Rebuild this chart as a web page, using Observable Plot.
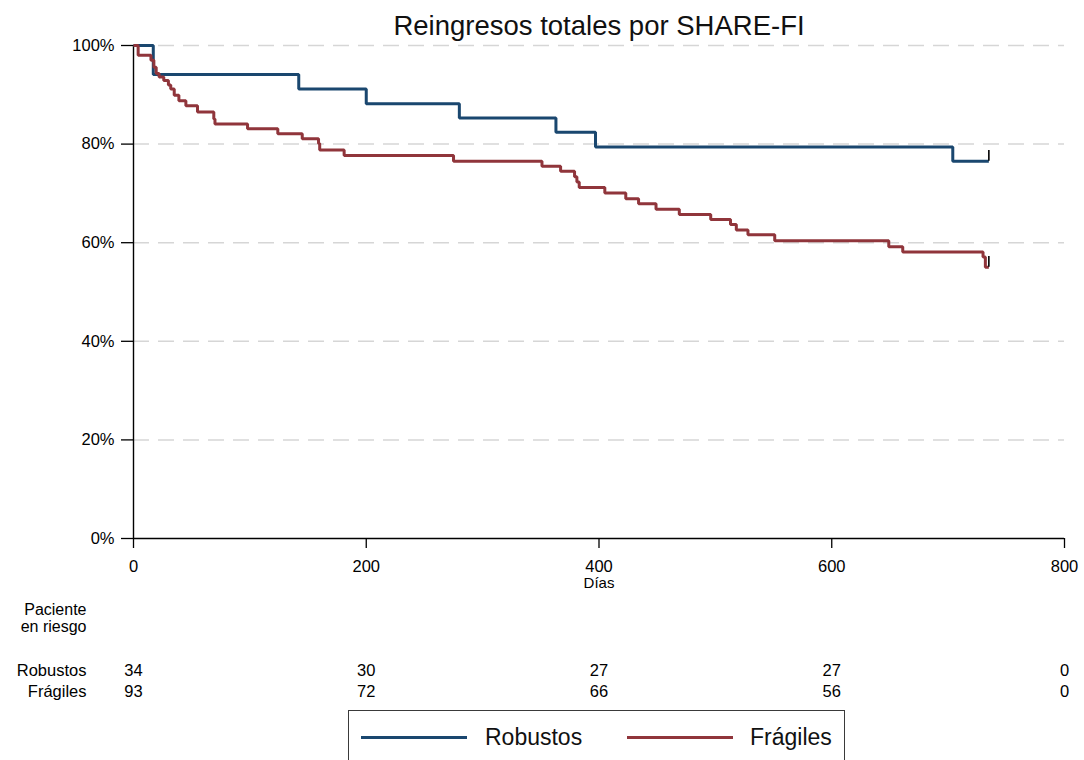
<!DOCTYPE html>
<html>
<head>
<meta charset="utf-8">
<script src="https://cdn.jsdelivr.net/npm/d3@7"></script>
<script src="https://cdn.jsdelivr.net/npm/@observablehq/plot@0.6"></script>
<style>
  html, body { margin: 0; padding: 0; background: #fff; overflow: hidden; }
  body { width: 1084px; height: 760px; position: relative; font-family: "Liberation Sans", Arial, sans-serif; }
  #legend { position: absolute; left: 348px; top: 710px; width: 497px; height: 60px; border: 1.5px solid #3a3a3a; box-sizing: border-box; background: #fff; }
  .sw { position: absolute; height: 3px; top: 25px; }
  .lt { position: absolute; top: 11px; font-size: 23px; line-height: 30px; color: #111; }
</style>
</head>
<body>
<div id="chart"></div>
<div id="legend"></div>
<script>
// ---- data ----
const groups = ["Robustos", "Frágiles"];
const colors = ["#1a476f", "#90353b"];

const robDays = [0, 17, 142, 200, 280, 363, 397, 704, 735];
const robSurv = [100, 94.1, 91.2, 88.2, 85.3, 82.4, 79.4, 76.5, 76.5];

const fraDays = [0, 4, 15, 17.5, 19.5, 22, 26, 30, 32, 35,
                 39, 45, 55, 69, 70, 98, 124, 145, 159, 160,
                 181, 275, 351, 367, 379, 381, 383, 405, 423, 434,
                 449, 469, 496, 513, 518, 528, 551, 649, 661, 730,
                 732, 735];
const fraSurv = [100, 98.0, 97.0, 95.6, 94.3, 93.6, 92.9, 92.0, 91.2, 89.9,
                 88.8, 87.8, 86.5, 85.1, 84.1, 83.1, 82.1, 81.1, 80.1, 78.8,
                 77.7, 76.5, 75.5, 74.5, 73.4, 72.3, 71.2, 70.1, 68.9, 67.9,
                 66.8, 65.7, 64.7, 63.7, 62.6, 61.6, 60.4, 59.2, 58.1, 57.1,
                 55.0, 55.0];

const censorDays = [735, 735];
const censorSurv = [76.5, 55.0];

const riskDays = [0, 200, 400, 600, 800];
const riskRob = [34, 30, 27, 27, 0];
const riskFra = [93, 72, 66, 56, 0];

const yTicks = [0, 20, 40, 60, 80, 100];
const xTicks = [0, 200, 400, 600, 800];

const title = "Reingresos totales por SHARE-FI";
const xLabel = "Días";
const riskTitle1 = "Paciente";
const riskTitle2 = "en riesgo";

// ---- tables built from arrays ----
const curves = [
  ...robDays.map((d, i) => ({day: d, surv: robSurv[i], g: groups[0]})),
  ...fraDays.map((d, i) => ({day: d, surv: fraSurv[i], g: groups[1]}))
];
const censors = censorDays.map((d, i) => ({day: d, surv: censorSurv[i]}));
const riskR = riskDays.map((d, i) => ({day: d, n: riskRob[i]}));
const riskF = riskDays.map((d, i) => ({day: d, n: riskFra[i]}));

const H = 706;
const txt = {lineAnchor: "middle", fill: "#000"};
const plot = Plot.plot({
  width: 1084,
  height: H,
  marginLeft: 133,
  marginRight: 20,
  marginTop: 45,
  marginBottom: H - 538,
  x: {domain: [0, 800], label: null},
  y: {domain: [0, 100], label: null},
  color: {domain: groups, range: colors},
  style: {fontFamily: "'Liberation Sans', Arial, sans-serif", fontSize: "16.5px", color: "#000", background: "#fff", overflow: "visible"},
  marks: [
    Plot.ruleY(yTicks.slice(1), {stroke: "#d6d6d6", strokeWidth: 1.5, strokeDasharray: "16,9"}),
    Plot.axisY({ticks: yTicks, tickFormat: d => d + "%", tickSize: 12, tickPadding: 7, stroke: "#000", strokeWidth: 1.3, fontSize: 16.5, label: null}),
    Plot.axisX({ticks: xTicks, tickSize: 10, tickPadding: 12, stroke: "#000", strokeWidth: 1.3, fontSize: 16.5, label: null}),
    Plot.ruleX([0], {stroke: "#000", strokeWidth: 1.4}),
    Plot.ruleY([0], {stroke: "#000", strokeWidth: 1.4}),
    Plot.line(curves, {x: "day", y: "surv", z: "g", stroke: "g", curve: "step-after", strokeWidth: 3, strokeLinejoin: "miter", strokeLinecap: "butt"}),
    Plot.ruleX(censors, {x: "day", y1: "surv", y2: d => d.surv + 2.2, stroke: "#000", strokeWidth: 1.6}),
    Plot.text([title], {...txt, frameAnchor: "top", dy: -19, fontSize: 27.5, fill: "#111"}),
    Plot.text([xLabel], {...txt, frameAnchor: "bottom", dy: 45, fontSize: 15}),
    Plot.text([riskTitle1], {...txt, frameAnchor: "bottom-left", dx: -47, dy: 71, textAnchor: "end", fontSize: 16}),
    Plot.text([riskTitle2], {...txt, frameAnchor: "bottom-left", dx: -47, dy: 88, textAnchor: "end", fontSize: 16}),
    Plot.text([groups[0]], {...txt, frameAnchor: "bottom-left", dx: -47, dy: 132, textAnchor: "end", fontSize: 16.5}),
    Plot.text([groups[1]], {...txt, frameAnchor: "bottom-left", dx: -47, dy: 153, textAnchor: "end", fontSize: 16.5}),
    Plot.text(riskR, {...txt, x: "day", text: "n", frameAnchor: "bottom", dy: 132, fontSize: 16.5}),
    Plot.text(riskF, {...txt, x: "day", text: "n", frameAnchor: "bottom", dy: 153, fontSize: 16.5})
  ]
});
document.getElementById("chart").appendChild(plot);

// ---- legend ----
const leg = document.getElementById("legend");
const legPos = [{line: 12, text: 136}, {line: 278, text: 401}];
groups.forEach((g, i) => {
  const sw = document.createElement("div");
  sw.className = "sw";
  sw.style.left = legPos[i].line + "px";
  sw.style.width = "106px";
  sw.style.background = colors[i];
  leg.appendChild(sw);
  const t = document.createElement("div");
  t.className = "lt";
  t.style.left = legPos[i].text + "px";
  t.textContent = g;
  leg.appendChild(t);
});
</script>
</body>
</html>
